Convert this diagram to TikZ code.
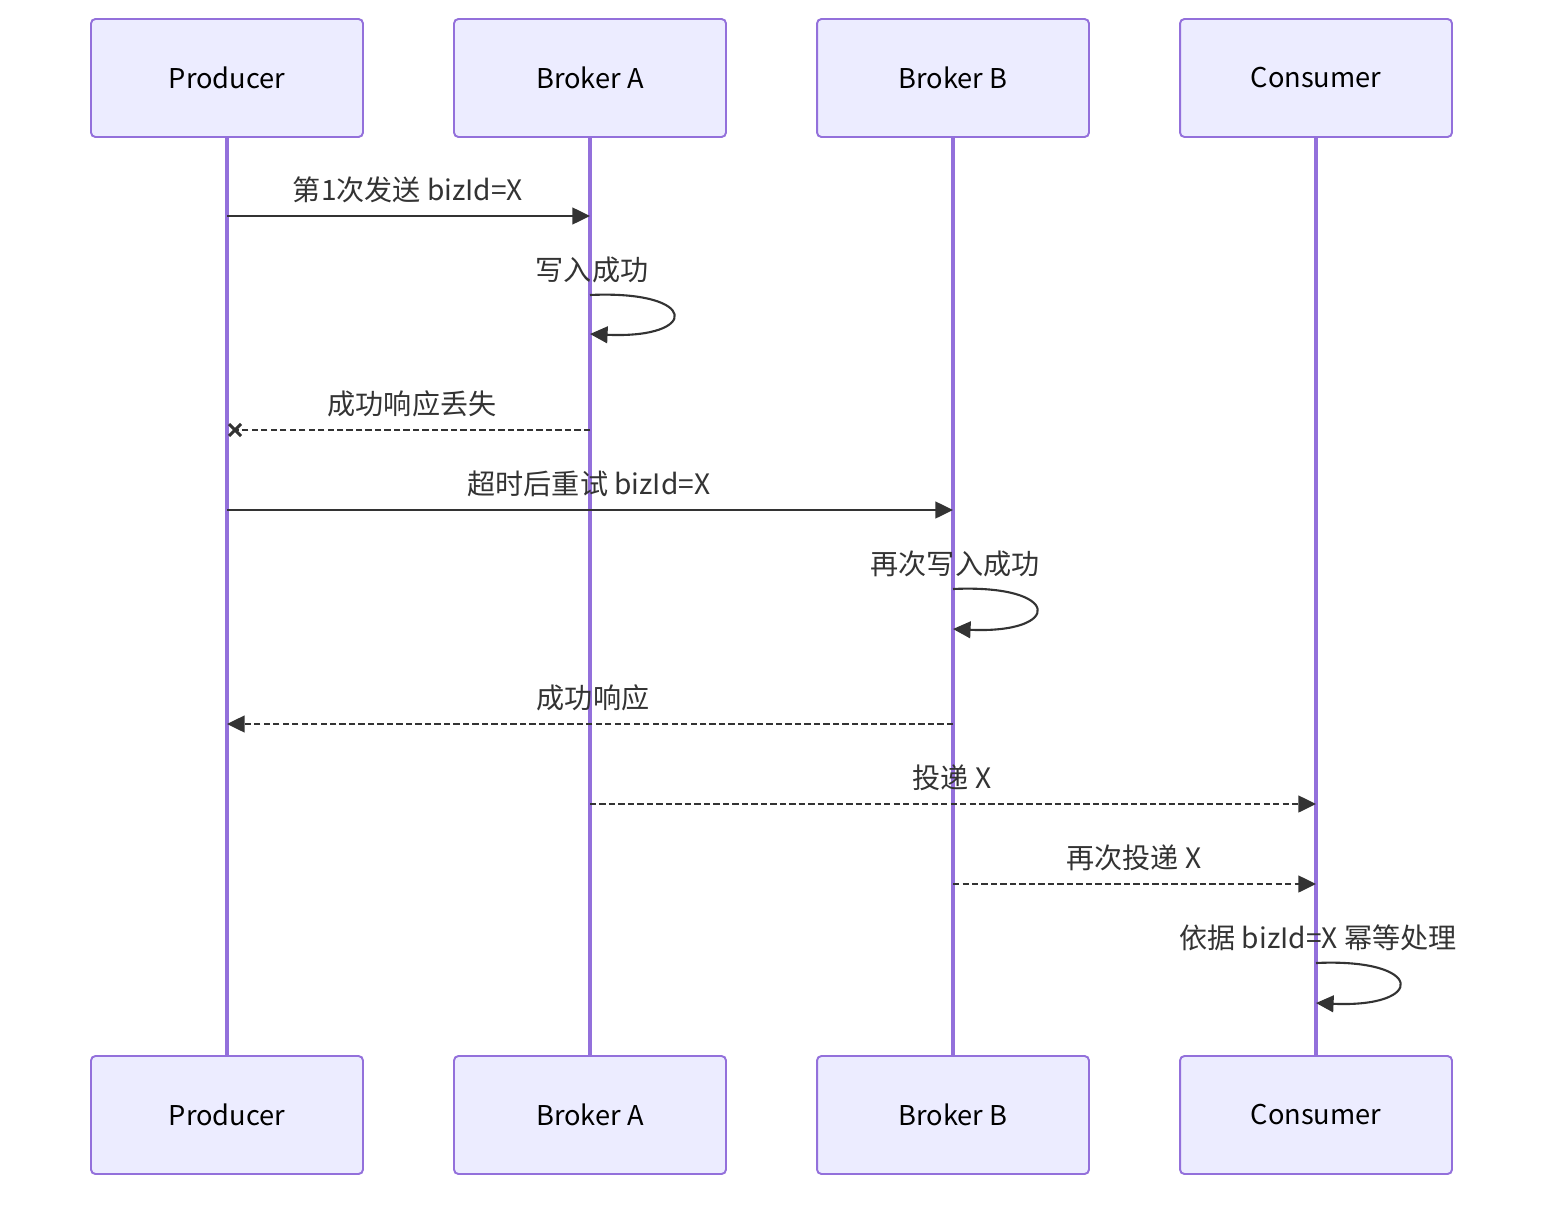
\documentclass[tikz,border=0pt]{standalone}
\usepackage{fontspec}
\setmainfont{Noto Sans CJK SC}
\usepackage{tikz}
\usetikzlibrary{arrows.meta,calc}
\definecolor{actorfill}{HTML}{ECECFF}
\definecolor{actorline}{HTML}{9370DB}
\definecolor{msgline}{HTML}{333333}
\tikzset{
  actor/.style={draw=actorline, fill=actorfill, line width=1.1pt, rounded corners=2.5pt,
    minimum width=5.44cm, minimum height=2.36cm, font=\fontsize{15.5}{18}\selectfont, text=black},
  life/.style={actorline, line width=1.9pt},
  msg/.style={msgline, line width=1.2pt, -{Triangle[length=10pt,width=9.5pt]}},
  reply/.style={msg, dash pattern=on 3.6pt off 1.8pt},
  selfloop/.style={msgline, line width=1.2pt, -{Triangle[length=10pt,width=9.5pt]}},
  lbl/.style={font=\fontsize{16}{19}\selectfont, text=msgline, inner sep=0pt},
}
\begin{document}
\begin{tikzpicture}[x=0.02cm, y=-0.02cm]
\useasboundingbox (0,0) rectangle (1568,1206);
% actors, top and bottom
\node[actor] (ptop) at (227,78) {Producer};
\node[actor] (atop) at (590,78) {Broker A};
\node[actor] (btop) at (953,78) {Broker B};
\node[actor] (ctop) at (1316,78) {Consumer};
\node[actor] (pbot) at (227,1115) {Producer};
\node[actor] (abot) at (590,1115) {Broker A};
\node[actor] (bbot) at (953,1115) {Broker B};
\node[actor] (cbot) at (1316,1115) {Consumer};
% lifelines
\draw[life] (ptop.south) -- (pbot.north);
\draw[life] (atop.south) -- (abot.north);
\draw[life] (btop.south) -- (bbot.north);
\draw[life] (ctop.south) -- (cbot.north);
% message points
\coordinate (p1) at (227,216);
\coordinate (a1) at (590,216);
\coordinate (a2s) at (590,295);
\coordinate (a2e) at (590,334);
\coordinate (a3) at (590,430);
\coordinate (p3) at (235,430);
\coordinate (p4) at (227,510);
\coordinate (b4) at (953,510);
\coordinate (b5s) at (953,589);
\coordinate (b5e) at (953,629);
\coordinate (b6) at (953,724);
\coordinate (p6) at (227,724);
\coordinate (a7) at (590,804);
\coordinate (c7) at (1316,804);
\coordinate (b8) at (953,884);
\coordinate (c8) at (1316,884);
\coordinate (c9s) at (1316,963);
\coordinate (c9e) at (1316,1003);
% messages
\node[lbl] (m1) at (408,190) {第1次发送 bizId=X};
\draw[msg] (p1) -- (a1);
\node[lbl] (m2) at (592,270) {写入成功};
\draw[selfloop] (a2s) .. controls (700,290) and (700,339) .. (a2e);
\node[lbl] (m3) at (412,404) {成功响应丢失};
\draw[reply, -] (a3) -- (p3);
\draw[msgline, line width=1.8pt] ($(p3)+(-6,-6)$) -- ($(p3)+(6,6)$);
\draw[msgline, line width=1.8pt] ($(p3)+(-6,6)$) -- ($(p3)+(6,-6)$);
\node[lbl] (m4) at (589,484) {超时后重试 bizId=X};
\draw[msg] (p4) -- (b4);
\node[lbl] (m5) at (955,564) {再次写入成功};
\draw[selfloop] (b5s) .. controls (1063,584) and (1063,634) .. (b5e);
\node[lbl] (m6) at (593,698) {成功响应};
\draw[reply] (b6) -- (p6);
\node[lbl] (m7) at (952,778) {投递 X};
\draw[reply] (a7) -- (c7);
\node[lbl] (m8) at (1134,858) {再次投递 X};
\draw[reply] (b8) -- (c8);
\node[lbl] (m9) at (1318,938) {依据 bizId=X 幂等处理};
\draw[selfloop] (c9s) .. controls (1426,958) and (1426,1008) .. (c9e);
\end{tikzpicture}
\end{document}
